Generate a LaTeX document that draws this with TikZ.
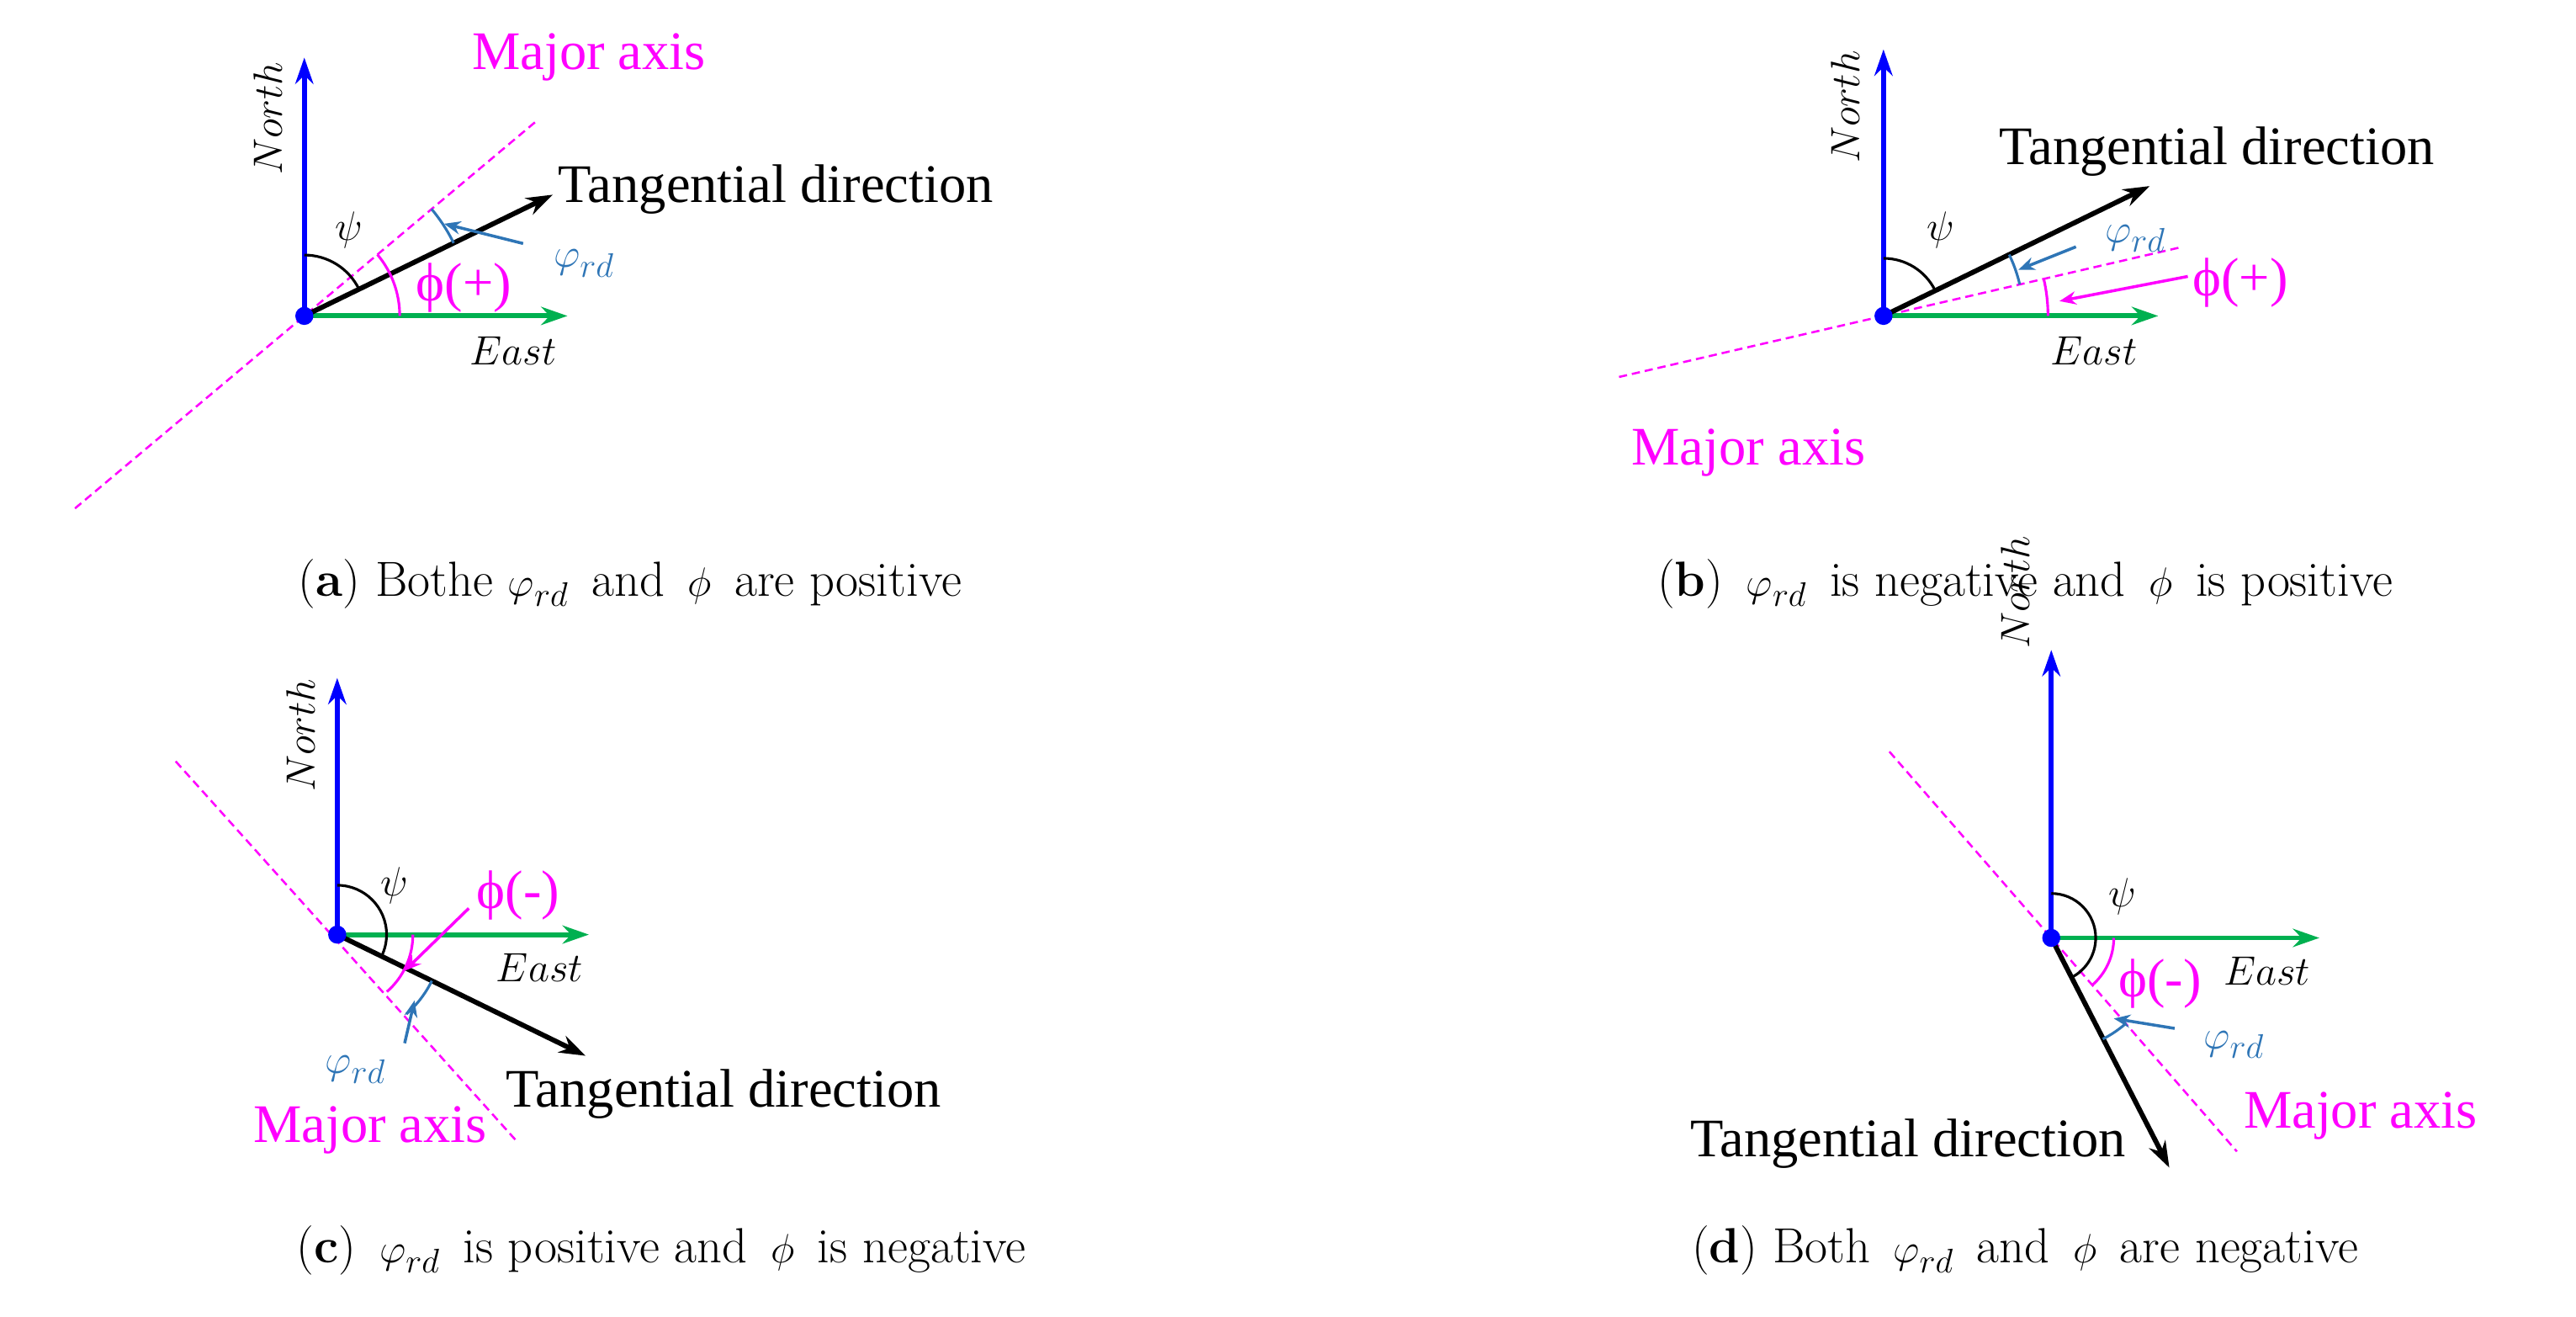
\documentclass[tikz,border=0pt]{standalone}
\usepackage{fontspec}
\newfontfamily\tms{Liberation Serif}
\usetikzlibrary{arrows.meta,calc}
\definecolor{mg}{RGB}{255,0,255}
\definecolor{gr}{RGB}{0,176,80}
\definecolor{lb}{RGB}{46,117,182}
\definecolor{nb}{RGB}{0,0,255}
\tikzset{
 ax/.style={line width=3pt,-{Stealth[length=16pt,width=11pt]}},
 north/.style={ax,nb}, east/.style={ax,gr}, tang/.style={ax,black},
 major/.style={mg,line width=1.3pt,dash pattern=on 5pt off 3pt},
 dot/.style={circle,fill=nb,inner sep=0pt,minimum size=11pt},
 lab/.style={font=\fontsize{32}{36}\selectfont},
 tl/.style={font=\fontsize{33}{38}\selectfont\tms},
 ml/.style={tl,text=mg},
 bl/.style={lab,text=lb},
 small/.style={line width=1.8pt,-{Stealth[length=10pt,width=8pt]}},
 arcb/.style={line width=1.6pt},
 captxt/.style={font=\fontsize{30}{36}\selectfont}
}
\begin{document}
\begin{tikzpicture}[x=1pt,y=1pt]
\useasboundingbox (0,0) rectangle (1566,800);
% ---------- (a)
\coordinate (Oa) at (185,608);
\draw[major] ($(Oa)+(220:182)$) -- ($(Oa)+(40:184)$);
\draw[east] (Oa) -- (345,608);
\draw[north] (Oa) -- (185,765);
\draw[tang] (Oa) -- ++(26:168);
\draw[arcb] ($(Oa)+(90:37)$) arc (90:26:37);
\draw[arcb,mg] ($(Oa)+(0:58)$) arc (0:40:58);
\draw[arcb,lb] ($(Oa)+(26:101)$) arc (26:40:101);
\node[dot] (Da) at (Oa) {};
\node[lab,rotate=90] (Na) at (163,728) {$North$};
\node[lab] (Ea) at (312,587) {$East$};
\node[lab] (Pa) at (212,660) {$\psi$};
\node[ml] (Fa) at (282,625) {ϕ(+)};
\node[bl] (Ra) at (355,640) {$\varphi_{rd}$};
\coordinate (ra) at (270,664);
\draw[small,lb] (318,652) -- (ra);
\node[ml] (Ma) at (358,765) {Major axis};
\node[tl,anchor=west] (Ta) at (336,685) {Tangential direction};
\node[captxt] (Ca) at (383,445) {(\textbf{a}) Bothe $\varphi_{rd}$\,\ and\,\ $\phi$\,\ are positive};
% ---------- (b)
\coordinate (Ob) at (1145,608);
\draw[major] ($(Ob)+(193:165)$) -- ($(Ob)+(13:185)$);
\draw[east] (Ob) -- (1312,608);
\draw[north] (Ob) -- (1145,770);
\draw[tang] (Ob) -- ++(26:180);
\draw[arcb] ($(Ob)+(90:35)$) arc (90:26:35);
\draw[arcb,lb] ($(Ob)+(13:85)$) arc (13:26:85);
\draw[arcb,mg] ($(Ob)+(0:100)$) arc (0:13:100);
\node[dot] (Db) at (Ob) {};
\node[lab,rotate=90] (Nb) at (1122,735) {$North$};
\node[lab] (Eb) at (1273,587) {$East$};
\node[lab] (Pb) at (1180,660) {$\psi$};
\node[bl] (Rb) at (1298,655) {$\varphi_{rd}$};
\draw[small,lb] (1262,650) -- (1227,636);
\node[ml] (Fb) at (1362,628) {ϕ(+)};
\draw[small,mg] (1330,632) -- (1252,617);
\node[ml] (Mb) at (1063,525) {Major axis};
\node[tl,anchor=west] (Tb) at (1212,708) {Tangential direction};
\node[captxt] (Cb) at (1231,445) {(\textbf{b})\,\ $\varphi_{rd}$\,\ is negative and\,\ $\phi$\,\ is positive};
% ---------- (c)
\coordinate (Oc) at (205,232);
\draw[major] ($(Oc)+(133:144)$) -- ($(Oc)+(-49:168)$);
\draw[east] (Oc) -- (358,232);
\draw[north] (Oc) -- (205,388);
\draw[tang] (Oc) -- ++(-26:168);
\draw[arcb] ($(Oc)+(90:30)$) arc (90:-26:30);
\draw[arcb,mg] ($(Oc)+(0:46)$) arc (0:-49:46);
\draw[arcb,lb] ($(Oc)+(-26:64)$) arc (-26:-49:64);
\node[dot] (Dc) at (Oc) {};
\node[lab,rotate=90] (Nc) at (183,353) {$North$};
\node[lab] (Ec) at (328,212) {$East$};
\node[lab] (Pc) at (240,262) {$\psi$};
\node[ml] (Fc) at (315,256) {ϕ(-)};
\draw[small,mg] (285,248) -- (246,210);
\node[bl] (Rc) at (216,150) {$\varphi_{rd}$};
\draw[small,lb] (246,166) -- (252,192);
\node[ml] (Mc) at (225,113) {Major axis};
\node[tl] (Tc) at (440,135) {Tangential direction};
\node[captxt] (Cc) at (402,40) {(\textbf{c})\,\ $\varphi_{rd}$\,\ is positive and\,\ $\phi$\,\ is negative};
% ---------- (d)
\coordinate (Od) at (1247,230);
\draw[major] ($(Od)+(131:150)$) -- ($(Od)+(-49:172)$);
\draw[east] (Od) -- (1410,230);
\draw[north] (Od) -- (1247,405);
\draw[tang] (Od) -- ++(-62.8:157);
\draw[arcb] ($(Od)+(90:27)$) arc (90:-63:27);
\draw[arcb,mg] ($(Od)+(0:38)$) arc (0:-49:38);
\draw[arcb,lb] ($(Od)+(-49:69)$) arc (-49:-63:69);
\node[dot] (Dd) at (Od) {};
\node[lab,rotate=90] (Nd) at (1225,440) {$North$};
\node[lab] (Ed) at (1378,210) {$East$};
\node[lab] (Pd) at (1290,255) {$\psi$};
\node[ml] (Fd) at (1313,202) {ϕ(-)};
\node[bl] (Rd) at (1358,165) {$\varphi_{rd}$};
\draw[small,lb] (1322,175) -- (1285,181);
\node[ml] (Md) at (1435,122) {Major axis};
\node[tl] (Td) at (1160,105) {Tangential direction};
\node[captxt] (Cd) at (1231,40) {(\textbf{d}) Both\,\ $\varphi_{rd}$\,\ and\,\ $\phi$\,\ are negative};
\end{tikzpicture}
\end{document}
